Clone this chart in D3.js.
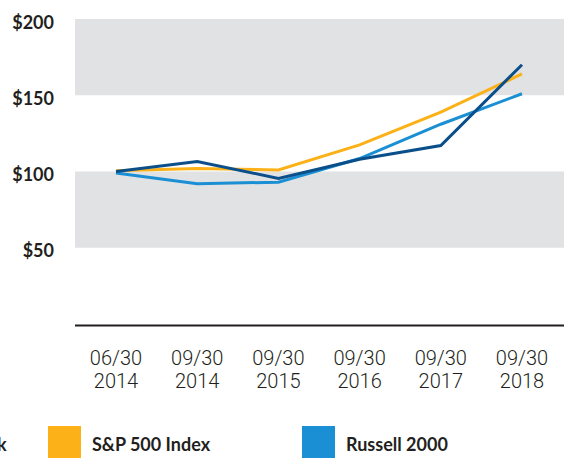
<!DOCTYPE html>
<html><head><meta charset="utf-8">
<script src="https://cdn.jsdelivr.net/npm/d3@7"></script>
<style>
html,body{margin:0;padding:0;background:#fff;}
svg{display:block;}
</style></head>
<body>
<script>
const dates = [["06/30","2014"],["09/30","2014"],["09/30","2015"],["09/30","2016"],["09/30","2017"],["09/30","2018"]];
const companyStock = [100, 106.5, 95.5, 108, 117, 170];
const sp500 = [100.5, 102, 101, 117.5, 139, 164];
const russell2000 = [99, 92, 93, 108.5, 131, 151];
const yTicks = [50, 100, 150, 200];
const yTickLabels = ["$50","$100","$150","$200"];
const seriesNames = ["Company Stock","S&P 500 Index","Russell 2000"];
const colors = ["#0b4f8a","#fbb117","#1a8fd3"];

const W = 564, H = 458;
const svg = d3.select("body").append("svg").attr("width", W).attr("height", H);

const x = d3.scalePoint().domain(d3.range(dates.length)).range([116, 522]);
const y = d3.scaleLinear().domain([0, 200]).range([324, 19]);

// bands
const bands = [[150,200],[50,100]];
svg.selectAll("rect.band").data(bands).enter().append("rect")
  .attr("x", 75).attr("width", W - 75)
  .attr("y", d => y(d[1])).attr("height", d => y(d[0]) - y(d[1]))
  .attr("fill", "#e1e2e4");

// y axis labels
const yAxis = d3.axisLeft(y).tickValues(yTicks).tickFormat((d,i)=>yTickLabels[i]).tickSize(0).tickPadding(0);
const gy = svg.append("g").attr("transform","translate(54,0)").call(yAxis);
gy.select(".domain").remove();
gy.selectAll("text").attr("font-family","Lato").attr("font-weight","bold").attr("font-size","18px").attr("fill","#231f20").attr("dy","0.5em");

// x axis line
svg.append("line").attr("x1",75).attr("x2",W).attr("y1",325.5).attr("y2",325.5).attr("stroke","#231f20").attr("stroke-width",2);

// x labels
const xl = svg.append("g");
dates.forEach((d,i)=>{
  const t = xl.append("text").attr("x", x(i)).attr("text-anchor","middle")
    .attr("font-family","Roboto").attr("font-weight","300").attr("font-size","20px").attr("fill","#231f20");
  t.append("tspan").attr("x", x(i)).attr("y", 365).text(d[0]);
  t.append("tspan").attr("x", x(i)).attr("y", 388).text(d[1]);
});

// lines
const line = d3.line().x((d,i)=>x(i)).y(d=>y(d));
const all = [companyStock, sp500, russell2000];
const order = [1,2,0];
order.forEach(k=>{
  svg.append("path").datum(all[k]).attr("d", line).attr("fill","none")
    .attr("stroke", colors[k]).attr("stroke-width", 3).attr("stroke-linejoin","miter");
});

// legend
const legX = [-162, 48, 302];
seriesNames.forEach((n,i)=>{
  svg.append("rect").attr("x", legX[i]).attr("y", 426).attr("width", 33).attr("height", 32).attr("fill", colors[i]);
  svg.append("text").attr("x", legX[i] + 44).attr("y", 451).text(n)
    .attr("font-family","Lato").attr("font-weight","bold").attr("font-size","18px").attr("fill","#231f20");
});
</script>
</body></html>
